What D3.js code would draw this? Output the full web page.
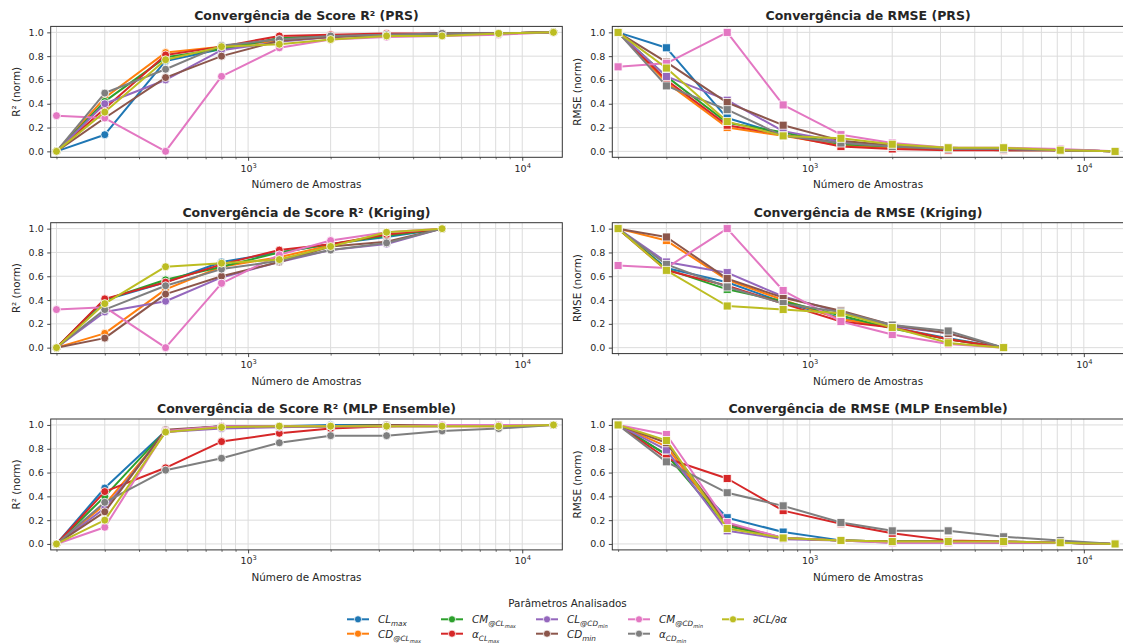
<!DOCTYPE html>
<html><head><meta charset="utf-8">
<script src="https://cdn.jsdelivr.net/npm/d3@7"></script>
<style>
body{margin:0;background:#fff}
svg{display:block}
text{font-family:"DejaVu Sans",sans-serif;fill:#262626}
</style>
</head><body>
<svg id="chart" width="1123" height="643"></svg>
<script>
// ---------------- DATA ----------------
const samplesFull = [200, 300, 500, 800, 1300, 2000, 3200, 5100, 8200, 13000];
const samplesKriging = [200, 300, 500, 800, 1300, 2000, 3200, 5100];
const seriesColors = ["#1f77b4","#ff7f0e","#2ca02c","#d62728","#9467bd","#8c564b","#e377c2","#7f7f7f","#bcbd22"];
// legend labels as math parts: [text, level]
const seriesLabels = [
  [["CL",0],["max",1]],
  [["CD",0],["@CL",1],["max",2]],
  [["CM",0],["@CL",1],["max",2]],
  [["α",0],["CL",1],["max",2]],
  [["CL",0],["@CD",1],["min",2]],
  [["CD",0],["min",1]],
  [["CM",0],["@CD",1],["min",2]],
  [["α",0],["CD",1],["min",2]],
  [["∂CL/∂α",0]]
];
const panelTitles = [
  "Convergência de Score R² (PRS)", "Convergência de RMSE (PRS)",
  "Convergência de Score R² (Kriging)", "Convergência de RMSE (Kriging)",
  "Convergência de Score R² (MLP Ensemble)", "Convergência de RMSE (MLP Ensemble)"
];
const yTicks = [0.0, 0.2, 0.4, 0.6, 0.8, 1.0];
const xMajorTicks = [1000, 10000];

// series order: CLmax, CD@CLmax, CM@CLmax, aCLmax, CL@CDmin, CDmin, CM@CDmin, aCDmin, dCL/da
const prsR2 = [
  [0,0.14,0.76,0.86,0.95,0.97,0.98,0.99,0.99,1.0],
  [0,0.45,0.83,0.88,0.93,0.96,0.98,0.98,0.99,1.0],
  [0,0.42,0.79,0.86,0.95,0.97,0.98,0.99,0.99,1.0],
  [0,0.36,0.81,0.88,0.97,0.98,0.99,0.99,0.99,1.0],
  [0,0.40,0.60,0.85,0.92,0.96,0.98,0.98,0.99,1.0],
  [0,0.28,0.62,0.80,0.93,0.96,0.98,0.98,0.99,1.0],
  [0.30,0.28,0.0,0.63,0.87,0.94,0.96,0.97,0.98,1.0],
  [0,0.49,0.69,0.89,0.94,0.97,0.98,0.99,0.99,1.0],
  [0,0.33,0.77,0.88,0.90,0.94,0.97,0.97,0.99,1.0]
];
const prsRmse = [
  [1.0,0.87,0.28,0.14,0.07,0.04,0.02,0.01,0.01,0],
  [1.0,0.58,0.20,0.13,0.05,0.03,0.02,0.01,0.01,0],
  [1.0,0.63,0.24,0.16,0.06,0.04,0.02,0.02,0.01,0],
  [1.0,0.60,0.22,0.14,0.04,0.02,0.01,0.01,0.01,0],
  [1.0,0.63,0.43,0.17,0.08,0.05,0.03,0.02,0.01,0],
  [1.0,0.75,0.41,0.22,0.09,0.05,0.03,0.02,0.01,0],
  [0.71,0.74,1.0,0.39,0.14,0.07,0.03,0.03,0.02,0],
  [1.0,0.55,0.35,0.13,0.07,0.04,0.02,0.02,0.01,0],
  [1.0,0.70,0.25,0.13,0.11,0.06,0.03,0.03,0.01,0]
];
const krigR2 = [
  [0,0.40,0.55,0.72,0.80,0.87,0.93,1.0],
  [0,0.12,0.49,0.68,0.76,0.86,0.95,1.0],
  [0,0.40,0.57,0.68,0.80,0.87,0.94,1.0],
  [0,0.41,0.55,0.70,0.82,0.87,0.95,1.0],
  [0,0.30,0.39,0.59,0.72,0.82,0.87,1.0],
  [0,0.08,0.45,0.60,0.72,0.85,0.89,1.0],
  [0.32,0.34,0.0,0.54,0.78,0.90,0.97,1.0],
  [0,0.32,0.52,0.66,0.73,0.82,0.88,1.0],
  [0,0.37,0.68,0.71,0.74,0.85,0.97,1.0]
];
const krigRmse = [
  [1.0,0.67,0.55,0.38,0.25,0.17,0.08,0],
  [1.0,0.90,0.57,0.40,0.24,0.17,0.07,0],
  [1.0,0.66,0.49,0.39,0.27,0.16,0.07,0],
  [1.0,0.65,0.52,0.37,0.22,0.17,0.07,0],
  [1.0,0.72,0.63,0.43,0.30,0.18,0.12,0],
  [1.0,0.93,0.58,0.42,0.31,0.19,0.12,0],
  [0.69,0.67,1.0,0.48,0.22,0.11,0.03,0],
  [1.0,0.70,0.51,0.37,0.30,0.19,0.14,0],
  [1.0,0.65,0.35,0.32,0.29,0.17,0.04,0]
];
const mlpR2 = [
  [0,0.47,0.95,0.99,0.99,1.0,1.0,1.0,1.0,1.0],
  [0,0.33,0.94,0.98,0.99,0.99,0.99,1.0,1.0,1.0],
  [0,0.40,0.95,0.99,0.99,0.99,1.0,1.0,1.0,1.0],
  [0,0.44,0.64,0.86,0.93,0.97,0.99,0.99,0.99,1.0],
  [0,0.30,0.94,0.97,0.98,0.99,0.99,0.99,1.0,1.0],
  [0,0.27,0.96,0.99,0.99,0.99,1.0,1.0,1.0,1.0],
  [0,0.14,0.95,0.99,0.99,0.99,0.99,1.0,1.0,1.0],
  [0,0.35,0.62,0.72,0.85,0.91,0.91,0.95,0.97,1.0],
  [0,0.20,0.94,0.98,0.99,0.99,0.99,0.99,0.99,1.0]
];
const mlpRmse = [
  [1.0,0.75,0.22,0.10,0.03,0.02,0.02,0.02,0.01,0],
  [1.0,0.82,0.15,0.05,0.03,0.02,0.02,0.01,0.01,0],
  [1.0,0.75,0.15,0.05,0.03,0.02,0.02,0.01,0.01,0],
  [1.0,0.72,0.55,0.28,0.17,0.09,0.03,0.02,0.01,0],
  [1.0,0.79,0.11,0.04,0.03,0.01,0.01,0.01,0.01,0],
  [1.0,0.85,0.17,0.05,0.03,0.02,0.02,0.01,0.01,0],
  [1.0,0.92,0.18,0.05,0.03,0.01,0.01,0.01,0.01,0],
  [1.0,0.69,0.43,0.32,0.18,0.11,0.11,0.06,0.03,0],
  [1.0,0.87,0.13,0.05,0.03,0.02,0.02,0.02,0.01,0]
];

// ---------------- LAYOUT ----------------
const svg = d3.select("#chart");
const colX = [50.7, 612.3];
const rowY = [26.4, 222.7, 419.0];
const pw = 511.6, ph = 130.9;
const xDomain = [190.5, 14000];
const yDomain = [-0.05, 1.05];

const panels = [
  {r:0,c:0,data:prsR2,xs:samplesFull,marker:"circle",ylabel:"R² (norm)"},
  {r:0,c:1,data:prsRmse,xs:samplesFull,marker:"square",ylabel:"RMSE (norm)"},
  {r:1,c:0,data:krigR2,xs:samplesKriging,marker:"circle",ylabel:"R² (norm)"},
  {r:1,c:1,data:krigRmse,xs:samplesKriging,marker:"square",ylabel:"RMSE (norm)"},
  {r:2,c:0,data:mlpR2,xs:samplesFull,marker:"circle",ylabel:"R² (norm)"},
  {r:2,c:1,data:mlpRmse,xs:samplesFull,marker:"square",ylabel:"RMSE (norm)"}
];

function mathText(sel, parts, base){
  const scale = [1, 0.7, 0.5];
  const off = [0, 0.3*base, 0.3*base + 0.2*base];
  let prev = 0;
  parts.forEach(([t,l]) => {
    sel.append("tspan").attr("font-size", base*scale[l]).attr("dy", off[l]-off[prev]).text(t);
    prev = l;
  });
}

panels.forEach((p, i) => {
  const g = svg.append("g").attr("transform", `translate(${colX[p.c]},${rowY[p.r]})`);
  const x = d3.scaleLog().domain(xDomain).range([0, pw]);
  const y = d3.scaleLinear().domain(yDomain).range([ph, 0]);

  const minor = [];
  [100, 1000, 10000].forEach(dec => { for (let k=2;k<=9;k++){ const v=dec*k; if (v>=xDomain[0] && v<=xDomain[1]) minor.push(v);} });
  const allX = minor.concat(xMajorTicks);

  g.append("g").selectAll("line").data(allX).join("line")
    .attr("x1", d=>x(d)).attr("x2", d=>x(d)).attr("y1",0).attr("y2",ph)
    .attr("stroke","#dcdcdc").attr("stroke-width",1);
  g.append("g").selectAll("line").data(yTicks).join("line")
    .attr("x1",0).attr("x2",pw).attr("y1",d=>y(d)).attr("y2",d=>y(d))
    .attr("stroke","#dcdcdc").attr("stroke-width",1);

  const xAxis = d3.axisBottom(x).tickValues(xMajorTicks).tickSize(3.5).tickPadding(4).tickFormat(()=> "");
  const xa = g.append("g").attr("transform",`translate(0,${ph})`).call(xAxis);
  xa.select(".domain").remove();
  xa.selectAll(".tick line").attr("stroke","#333").attr("stroke-width",0.9);
  xa.selectAll(".tick text").each(function(d){
    const t = d3.select(this).attr("font-size",9.5).attr("fill","#262626").attr("font-family","DejaVu Sans");
    t.append("tspan").text("10");
    t.append("tspan").attr("font-size",6.7).attr("dy",-4).text(Math.round(Math.log10(d)));
  });
  const xMinorAxis = d3.axisBottom(x).tickValues(minor).tickSize(2).tickFormat(()=> "");
  const xm = g.append("g").attr("transform",`translate(0,${ph})`).call(xMinorAxis);
  xm.select(".domain").remove();
  xm.selectAll(".tick line").attr("stroke","#333").attr("stroke-width",0.7);

  const yAxis = d3.axisLeft(y).tickValues(yTicks).tickSize(3.5).tickPadding(3.5).tickFormat(d3.format(".1f"));
  const ya = g.append("g").call(yAxis);
  ya.select(".domain").remove();
  ya.selectAll(".tick line").attr("stroke","#333").attr("stroke-width",0.9);
  ya.selectAll(".tick text").attr("font-size",9.5).attr("fill","#262626").attr("font-family","DejaVu Sans");

  const line = d3.line().x(d=>x(d[0])).y(d=>y(d[1]));
  p.data.forEach((vals, si) => {
    const pts = p.xs.map((xv, k) => [xv, vals[k]]);
    g.append("path").datum(pts).attr("d", line).attr("fill","none")
      .attr("stroke", seriesColors[si]).attr("stroke-width", 2).attr("stroke-linejoin","round");
    if (p.marker === "circle") {
      g.append("g").selectAll("circle").data(pts).join("circle")
        .attr("cx", d=>x(d[0])).attr("cy", d=>y(d[1])).attr("r", 4)
        .attr("fill", seriesColors[si]).attr("stroke","#fff").attr("stroke-width",0.8);
    } else {
      g.append("g").selectAll("rect").data(pts).join("rect")
        .attr("x", d=>x(d[0])-4).attr("y", d=>y(d[1])-4).attr("width",8).attr("height",8)
        .attr("fill", seriesColors[si]).attr("stroke","#fff").attr("stroke-width",0.8);
    }
  });

  g.append("rect").attr("x",0).attr("y",0).attr("width",pw).attr("height",ph)
    .attr("fill","none").attr("stroke","#333").attr("stroke-width",1);

  g.append("text").attr("x", pw/2).attr("y", -6).attr("text-anchor","middle")
    .attr("font-size",12.5).attr("font-weight","bold").attr("fill","#000").text(panelTitles[i]);
  g.append("text").attr("x", pw/2).attr("y", ph+31).attr("text-anchor","middle")
    .attr("font-size",10.4).text("Número de Amostras");
  g.append("text").attr("transform",`translate(-31,${ph/2}) rotate(-90)`).attr("text-anchor","middle")
    .attr("font-size",10.4).text(p.ylabel);
});

// ---------------- LEGEND ----------------
const lg = svg.append("g");
lg.append("text").attr("x",567.5).attr("y",606.5).attr("text-anchor","middle").attr("font-size",10.4).text("Parâmetros Analisados");
const legCols = [347, 441, 536, 628, 722];
const legRows = [619.3, 633.7];
seriesLabels.forEach((parts, si) => {
  const col = Math.floor(si/2), row = si%2;
  const hx = legCols[col], hy = legRows[row];
  lg.append("line").attr("x1",hx).attr("x2",hx+22).attr("y1",hy).attr("y2",hy)
    .attr("stroke",seriesColors[si]).attr("stroke-width",2);
  lg.append("circle").attr("cx",hx+11).attr("cy",hy).attr("r",3.6)
    .attr("fill",seriesColors[si]).attr("stroke","#fff").attr("stroke-width",0.8);
  const t = lg.append("text").attr("x",hx+31).attr("y",hy+3.8).attr("font-size",10.4).attr("font-style","italic");
  mathText(t, parts, 10.4);
});
</script>
</body></html>
